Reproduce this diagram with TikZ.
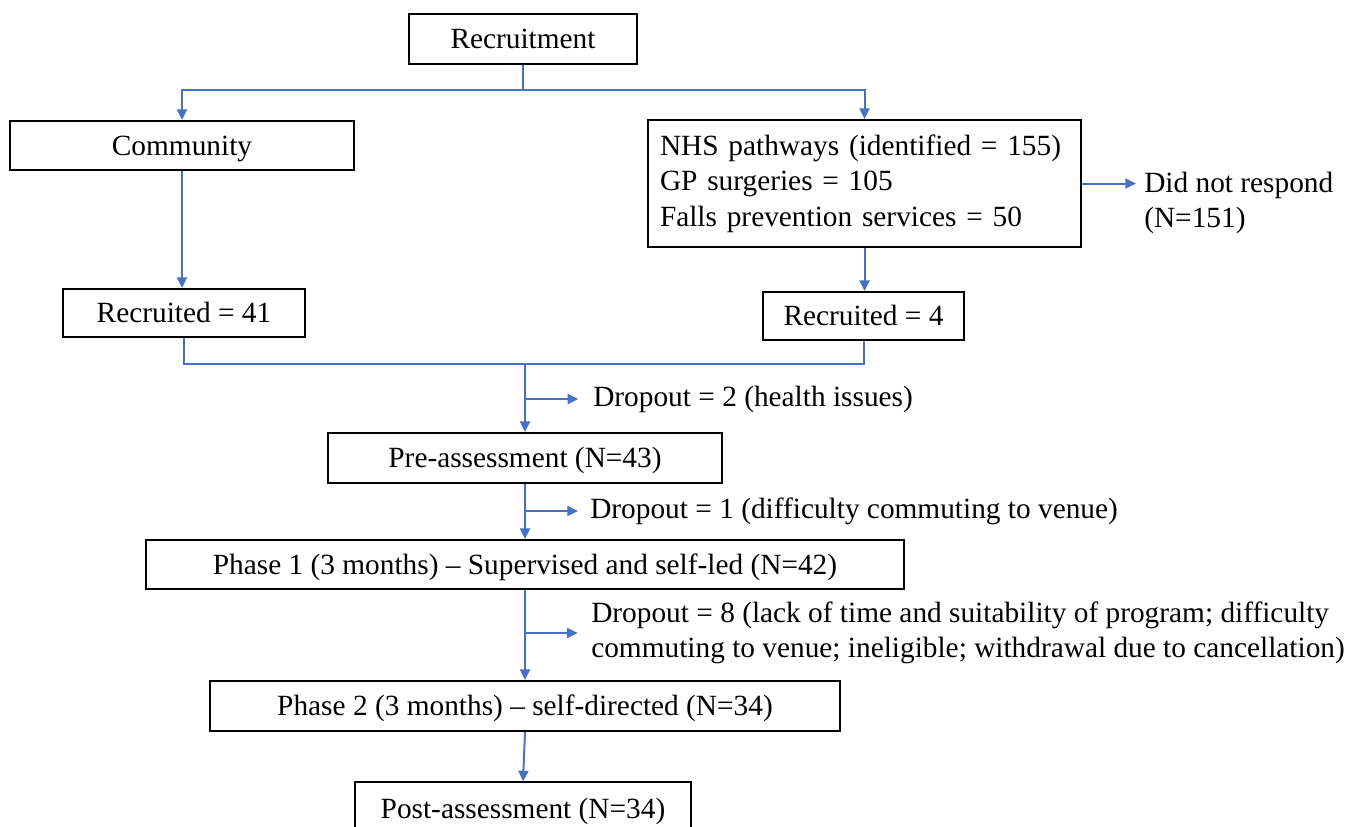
\documentclass[tikz,border=0pt]{standalone}
\usepackage{fontspec}
\setmainfont{Liberation Serif}
\usetikzlibrary{arrows.meta, positioning}
\definecolor{linkblue}{RGB}{68, 114, 196}

\begin{document}
\begin{tikzpicture}[x=0.75pt, y=-0.75pt,
  box/.style={draw, line width=1.4pt, inner sep=0pt, text height=19.6pt, text depth=4.75pt, font=\fontsize{22}{26.6}\selectfont},
  note/.style={anchor=west, align=left, inner sep=0pt, font=\fontsize{22}{26.6}\selectfont},
  link/.style={draw=linkblue, line width=1.5pt},
  arr/.style={link, -{Triangle[length=8pt, width=7.5pt]}}]
  \useasboundingbox (0,0) rectangle (1366,826);
  \clip (0,0) rectangle (1366,826);

  % Recruitment sources
  \node[box, minimum width=171pt, minimum height=37.5pt] (recruit) at (523, 39) {Recruitment};
  \node[box, minimum width=258pt, minimum height=36.75pt] (community) at (182, 145.5) {Community};
  \node[box, minimum width=324.75pt, minimum height=95.25pt, text width=306.75pt, text height=, text depth=, align=left] (nhs) at (864.5, 183.5) {
    NHS pathways (identified = 155)\\
    GP surgeries = 105\\
    Falls prevention services = 50};
  \node[note] (noresp) at (1144, 203) {Did not respond\\(N=151)};

  \coordinate (split) at (523, 90);
  \draw[link] (recruit.south) -- (split);
  \draw[arr] (split) -| (community.north);
  \draw[arr] (split) -| (nhs.north);
  \draw[arr, shorten >=6pt] (nhs.east) -- (noresp.west |- nhs.east);

  % Recruited
  \node[box, minimum width=181.5pt, minimum height=36pt] (rec41) at (184, 313) {Recruited = 41};
  \node[box, minimum width=150.75pt, minimum height=36pt] (rec4) at (863.5, 316) {Recruited = 4};
  \draw[arr] (community.south) -- (community.south |- rec41.north);
  \draw[arr] (nhs.south) -- (nhs.south |- rec4.north);

  \coordinate (merge) at (525, 364);
  \draw[link] (rec41.south) -- (rec41.south |- merge) -- (rec4.south |- merge) -- (rec4.south);

  % Study phases
  \node[box, minimum width=295.5pt, minimum height=37.5pt] (pre) at (525, 458) {Pre-assessment (N=43)};
  \node[box, minimum width=568.5pt, minimum height=36.75pt] (phase1) at (525, 564.5) {Phase 1 (3 months) -- Supervised and self-led (N=42)};
  \node[box, minimum width=472.5pt, minimum height=37.5pt] (phase2) at (525, 706) {Phase 2 (3 months) -- self-directed (N=34)};
  \node[box, minimum width=252pt, minimum height=40pt] (post) at (523, 809) {Post-assessment (N=34)};

  \draw[arr] (merge) -- (pre.north);
  \draw[arr] (pre.south) -- (phase1.north);
  \draw[arr] (phase1.south) -- (phase2.north);
  \draw[arr] (phase2.south) -- (post.north);

  % Dropouts
  \node[note] (drop2) at (593, 399) {Dropout = 2 (health issues)};
  \node[note] (drop1) at (590, 511) {Dropout = 1 (difficulty commuting to venue)};
  \node[note] (drop8) at (591, 633) {Dropout = 8 (lack of time and suitability of program; difficulty\\commuting to venue; ineligible; withdrawal due to cancellation)};

  \draw[arr, shorten >=11pt] (merge |- drop2.west) -- (drop2.west);
  \draw[arr, shorten >=9pt] (pre.south |- drop1.west) -- (drop1.west);
  \draw[arr, shorten >=10pt] (phase1.south |- drop8.west) -- (drop8.west);
\end{tikzpicture}
\end{document}
